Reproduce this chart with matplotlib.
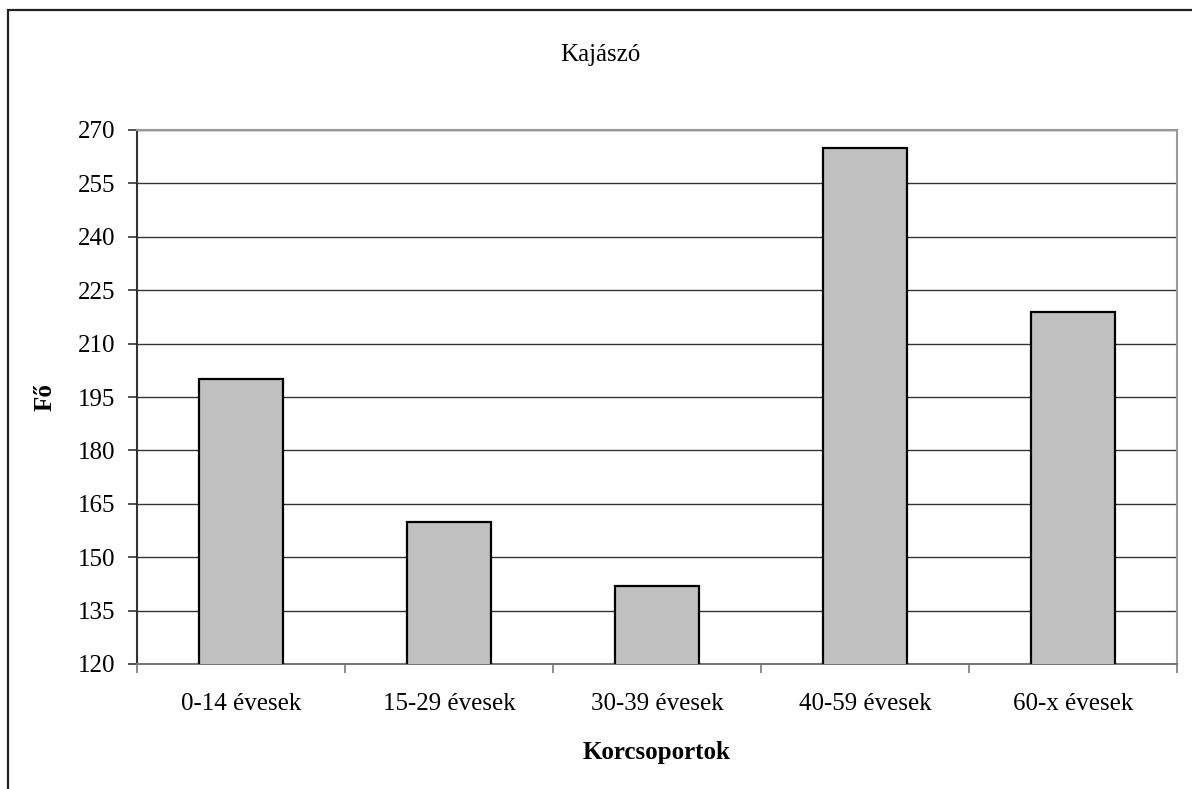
import matplotlib
matplotlib.use("Agg")
import matplotlib.pyplot as plt
from matplotlib.patches import Rectangle

categories = ["0-14 évesek", "15-29 évesek", "30-39 évesek", "40-59 évesek", "60-x évesek"]
values = [200, 160, 142, 265, 219]
yticks = [120, 135, 150, 165, 180, 195, 210, 225, 240, 255, 270]
title = "Kajászó"
xlabel = "Korcsoportok"
ylabel = "Fő"

plt.rcParams['font.family'] = ['Liberation Serif', 'DejaVu Serif']

W, H = 1192, 789
fig = plt.figure(figsize=(W / 100, H / 100), dpi=100)
ax = fig.add_axes([137 / W, 1 - 664 / H, (1177 - 137) / W, (664 - 130) / H])

x = list(range(len(categories)))
ax.bar(x, values, width=0.40, bottom=0, color="#C0C0C0", edgecolor="black",
       linewidth=1.6, zorder=3)
ax.set_xlim(-0.5, len(categories) - 0.5)
ax.set_ylim(yticks[0], yticks[-1])
ax.set_yticks(yticks)
ax.set_yticklabels([str(v) for v in yticks], fontsize=18)
ax.yaxis.grid(True, color="#333333", linewidth=1.0, zorder=0)
ax.set_axisbelow(True)

ax.set_xticks(x)
ax.set_xticklabels(categories, fontsize=18)
ax.tick_params(axis='x', length=0, pad=21)
ax.set_xticks([i - 0.5 for i in range(len(categories) + 1)], minor=True)
ax.tick_params(axis='x', which='minor', length=6.5, width=1.2, color="#777777")
ax.tick_params(axis='y', length=6.5, width=1.2, color="#333333", pad=9)

for s in ["top", "right"]:
    ax.spines[s].set_color("#999999")
    ax.spines[s].set_linewidth(1.5)
ax.spines["left"].set_color("#333333")
ax.spines["left"].set_linewidth(1.5)
ax.spines["bottom"].set_color("#777777")
ax.spines["bottom"].set_linewidth(1.5)

fig.text(600 / W, 1 - 55 / H, title, ha="center", va="center", fontsize=18)
fig.text(657 / W, 1 - 752 / H, xlabel, ha="center", va="center", fontsize=18, fontweight="bold")
fig.text(45 / W, 1 - 397 / H, ylabel, ha="center", va="center", fontsize=18,
         fontweight="bold", rotation=90)

fig.patches.append(Rectangle((8 / W, -0.1), 1.2, 1 - 10 / H + 0.1,
                             transform=fig.transFigure, fill=False,
                             edgecolor="#222222", linewidth=1.6))

fig.savefig("out.png", dpi=100)
